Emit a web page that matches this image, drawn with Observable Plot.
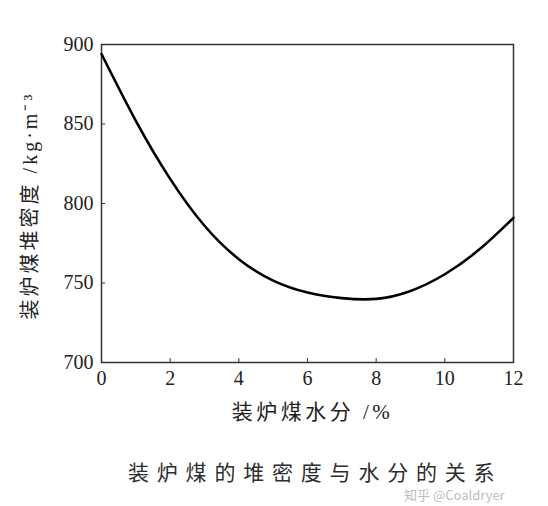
<!DOCTYPE html>
<html><head><meta charset="utf-8">
<script src="https://cdn.jsdelivr.net/npm/d3@7"></script>
<script src="https://cdn.jsdelivr.net/npm/@observablehq/plot@0.6"></script>
<style>
body{margin:0;background:#fff;}
#wrap{position:relative;width:548px;height:506px;}
#cap{position:absolute;left:0;top:459px;width:548px;height:47px;}
#cap .t{position:absolute;left:128px;top:0;font-family:"Noto Sans CJK SC";font-size:21px;line-height:24px;letter-spacing:7.8px;color:#2e2e2e;white-space:nowrap;}
#cap .w{position:absolute;left:404px;top:28px;font-family:"Noto Sans CJK SC";font-size:13px;line-height:16px;color:rgba(170,170,170,0.8);white-space:nowrap;}
</style></head>
<body><div id="wrap"><div id="chart"></div><div id="cap"><span class="t">装炉煤的堆密度与水分的关系</span><span class="w">知乎 @Coaldryer</span></div></div>
<script>
const moisture = [0,1,2,3,4,5,6,7,8,9,10,11,12];
const density = [894,852,815.5,786,765,751.5,744,740.5,740,745,755.5,771,791];
const xTicks = [0,2,4,6,8,10,12];
const yTicks = [700,750,800,850,900];
const xLabel = "装炉煤水分 /%";
const yLabel = "装炉煤堆密度 /kg·m⁻³";

const data = moisture.map((m,i)=>({m, d: density[i]}));
const mixed = "Liberation Serif, Noto Sans CJK SC";
const chart = Plot.plot({
  width: 548, height: 430,
  marginLeft: 101, marginRight: 35, marginTop: 44, marginBottom: 68,
  style: {fontFamily: "Liberation Serif", fontSize: "20px", color: "#222", background: "#fff"},
  x: {domain: [0,12]},
  y: {domain: [700,900]},
  marks: [
    Plot.frame({stroke: "#333", strokeWidth: 1.5}),
    Plot.ruleX(xTicks, {x: d=>d, y1: 700, y2: 702.5, stroke: "#333"}),
    Plot.ruleY(yTicks, {y: d=>d, x1: 0, x2: 0.12, stroke: "#333"}),
    Plot.axisX(xTicks, {tickSize: 0, tickPadding: 8, fontSize: 20, label: null}),
    Plot.axisY(yTicks, {tickSize: 0, tickPadding: 8, fontSize: 20, label: null}),
    Plot.text([xLabel], {frameAnchor: "bottom", dx: 5, dy: 56, fontFamily: mixed, fontSize: 21, fill: "#222"}),
    Plot.text([yLabel], {frameAnchor: "left", textAnchor: "middle", dx: -71, dy: 2, rotate: -90, fontFamily: mixed, fontSize: 20, fill: "#222"}),
    Plot.line(data, {x: "m", y: "d", curve: "natural", stroke: "#000", strokeWidth: 2.6})
  ]
});
d3.select(chart).selectAll("text").each(function(){
  const t = this.textContent;
  if (t === xLabel) this.setAttribute("letter-spacing", "3.5");
  if (t === yLabel) this.setAttribute("letter-spacing", "3");
});
document.getElementById("chart").appendChild(chart);
</script></body></html>
